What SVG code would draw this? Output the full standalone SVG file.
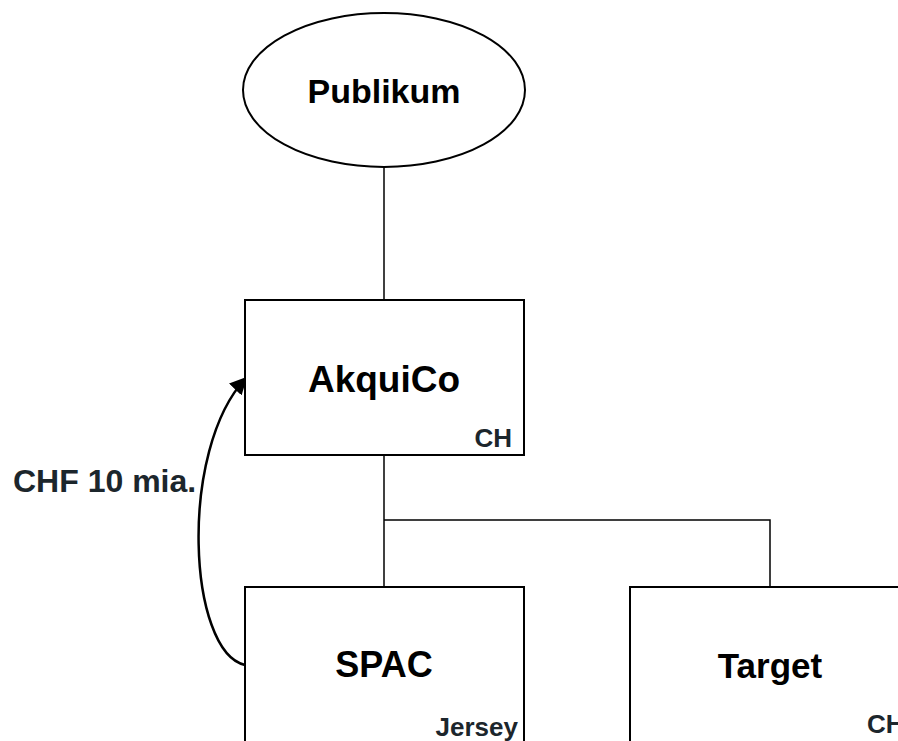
<svg xmlns="http://www.w3.org/2000/svg" width="898" height="741" viewBox="0 0 898 741">
<style>
.node{fill:#fff;stroke:#000;stroke-width:2}
.title{font-family:"Liberation Sans",Arial,sans-serif;font-weight:bold;font-size:35px;fill:#000;text-anchor:middle}
.small{font-family:"Liberation Sans",Arial,sans-serif;font-weight:bold;font-size:26px;fill:#1c262c;text-anchor:end}
.conn{fill:none;stroke:#000;stroke-width:1.5}
.flow{fill:none;stroke:#000;stroke-width:2.5}
.lbl{font-family:"Liberation Sans",Arial,sans-serif;font-weight:bold;font-size:32px;fill:#1c262c}
</style>
<defs>
<marker id="arr" viewBox="0 0 10 10" refX="9" refY="5" markerWidth="7" markerHeight="7" markerUnits="strokeWidth" orient="auto">
<path d="M0,0 L10,5 L0,10 z" fill="#000"/>
</marker>
</defs>
<rect width="898" height="741" fill="#fff"/>
<g id="connectors">
<line class="conn" x1="384" y1="167" x2="384" y2="300"/>
<line class="conn" x1="384" y1="455" x2="384" y2="587"/>
<polyline class="conn" points="384,520 770,520 770,587"/>
<path class="flow" d="M245,665 C188,652 178,450 246,378" marker-end="url(#arr)"/>
<text class="lbl" x="13" y="492">CHF 10 mia.</text>
</g>
<g id="publikum">
<ellipse class="node" cx="384" cy="90" rx="141" ry="77"/>
<text class="title" x="384" y="103" style="font-size:34px">Publikum</text>
</g>
<g id="akquico">
<rect class="node" x="245" y="300" width="279" height="155"/>
<text class="title" x="384" y="392" style="font-size:37px">AkquiCo</text>
<text class="small" x="512" y="447">CH</text>
</g>
<g id="spac">
<rect class="node" x="245" y="587" width="279" height="170"/>
<text class="title" x="384" y="677" style="font-size:36px">SPAC</text>
<text class="small" x="518" y="736">Jersey</text>
</g>
<g id="target">
<rect class="node" x="630" y="587" width="300" height="170"/>
<text class="title" x="770" y="678">Target</text>
<text class="small" x="867" y="733" style="text-anchor:start">CH</text>
</g>
</svg>
